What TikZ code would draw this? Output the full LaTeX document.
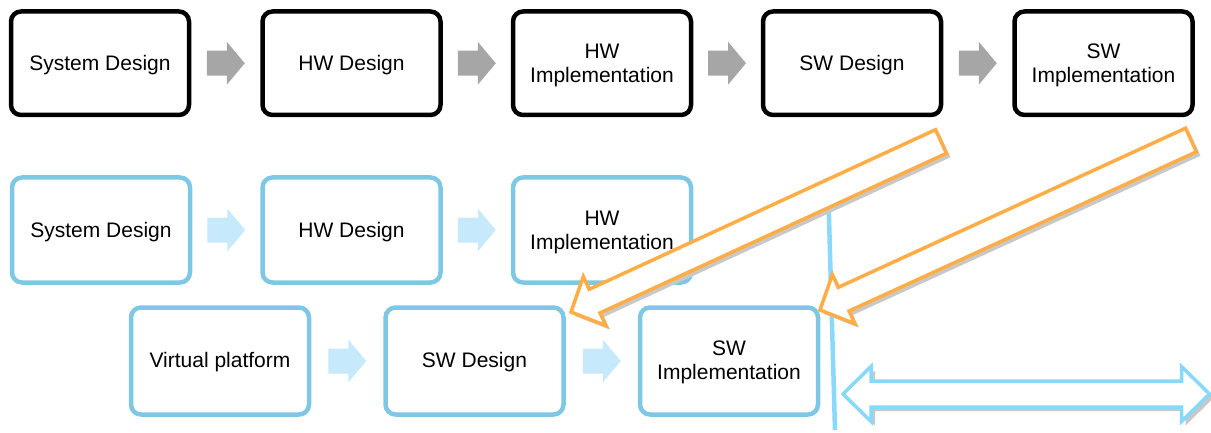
\documentclass[tikz,border=0pt]{standalone}
\usepackage{fontspec}
\setmainfont{Liberation Sans}
\usetikzlibrary{calc}
\definecolor{boxblue}{HTML}{7EC8E5}
\definecolor{arrowblue}{HTML}{C6EAFB}
\definecolor{arrowgray}{HTML}{A6A6A6}
\definecolor{bigorange}{HTML}{FFAD44}
\definecolor{vlineblue}{HTML}{8BD9FA}
\definecolor{dblblue}{HTML}{87D9F9}
\definecolor{shadowgray}{HTML}{C8C8C8}
% text block whose node box spans cap top to last baseline (optionally raised)
\newcommand{\boxlines}[2][1.8pt]{\raisebox{0pt}[\dimexpr\height-#1\relax][0pt]{\begin{tabular}[b]{@{}c@{}}#2\end{tabular}}}
\tikzset{
  stagebox/.style={rectangle, rounded corners=10pt, line width=4.5pt, fill=white,
    minimum width=178pt, inner sep=0pt, text depth=0pt,
    font=\fontsize{21}{24}\selectfont, text=black},
  blackbox/.style={stagebox, draw=black, minimum height=103.5pt},
  bluebox/.style={stagebox, draw=boxblue, minimum height=105pt},
  bluebox3/.style={stagebox, draw=boxblue, minimum height=107pt},
  grayflow/.style={fill=arrowgray},
  blueflow/.style={fill=arrowblue},
  bigarrow/.style={draw=bigorange, fill=white, line width=3.5pt, line join=miter},
  bigshadow/.style={fill=shadowgray},
  dblarrow/.style={draw=dblblue, fill=white, line width=3.5pt, line join=miter},
}
% small block arrow centred in the gap between two nodes
\newcommand{\flowarrow}[3]{%
  \path[#1] ($(#2.east)!0.5!(#3.west)$) ++(-19,-12.5) -- ++(20,0) -- ++(0,-9)
    -- ++(18,21.5) -- ++(-18,21.5) -- ++(0,-9) -- ++(-20,0) -- cycle;}
% fat outlined arrow from tail #2 to tip #3
\newcommand{\fatarrow}[3]{%
  \coordinate (fabase) at ($(#3)!26pt!(#2)$);
  \path[#1] ($(#2)!13pt!90:(#3)$) -- ($(fabase)!13pt!90:(#3)$)
    -- ($(fabase)!27pt!90:(#3)$) -- (#3) -- ($(fabase)!27pt!-90:(#3)$)
    -- ($(fabase)!13pt!-90:(#3)$) -- ($(#2)!13pt!-90:(#3)$) -- cycle;}
% double-headed outlined arrow between #2 and #3 (horizontal)
\newcommand{\twoheadarrow}[3]{%
  \path[#1] (#2) -- ++(28,-27.5) -- ++(0,14.5) -- ($(#3)+(-28,-13)$) -- ++(0,-14.5)
    -- (#3) -- ++(-28,27.5) -- ++(0,-14.5) -- ($(#2)+(28,13)$) -- ++(0,14.5) -- cycle;}
\begin{document}
\begin{tikzpicture}[x=1pt, y=-1pt]
\useasboundingbox (0,0) rectangle (1211,433);

% row 1
\node[blackbox] (t1) at (100,63.25) {\boxlines{System Design}};
\node[blackbox] (t2) at (351.5,63.25) {\boxlines{HW Design}};
\node[blackbox] (t3) at (602,63.25) {\boxlines{HW\\Implementation}};
\node[blackbox] (t4) at (852,63.25) {\boxlines{SW Design}};
\node[blackbox] (t5) at (1103.5,63.25) {\boxlines{SW\\Implementation}};
\flowarrow{grayflow}{t1}{t2}
\flowarrow{grayflow}{t2}{t3}
\flowarrow{grayflow}{t3}{t4}
\flowarrow{grayflow}{t4}{t5}

% row 2
\node[bluebox] (m1) at (101,230) {\boxlines{System Design}};
\node[bluebox] (m2) at (351.5,230) {\boxlines{HW Design}};
\node[bluebox] (m3) at (602,230) {\boxlines{HW\\Implementation}};
\flowarrow{blueflow}{m1}{m2}
\flowarrow{blueflow}{m2}{m3}

% row 3
\node[bluebox3] (b1) at (220,361) {\boxlines[4.8pt]{Virtual platform}};
\node[bluebox3] (b2) at (474.5,361) {\boxlines[4.8pt]{SW Design}};
\node[bluebox3] (b3) at (729,361) {\boxlines[4.8pt]{SW\\Implementation}};
\flowarrow{blueflow}{b1}{b2}
\flowarrow{blueflow}{b2}{b3}

% vertical divider
\coordinate (vtop) at (828.5,200);
\coordinate (vbot) at (835,430);
\draw[vlineblue, line width=4.5pt] (vtop) -- (vbot);

% big orange arrows
\coordinate (o1t) at (941,141.5);
\coordinate (o1h) at (571,312);
\coordinate (o2t) at (1191,140);
\coordinate (o2h) at (820,310);
\begin{scope}[transform canvas={shift={(4pt,-4pt)}}]
  \fatarrow{bigshadow}{o1t}{o1h}
  \fatarrow{bigshadow}{o2t}{o2h}
\end{scope}
\fatarrow{bigarrow}{o1t}{o1h}
\fatarrow{bigarrow}{o2t}{o2h}

% double arrow
\coordinate (dl) at (843,394);
\coordinate (dr) at (1209.5,394);
\begin{scope}[transform canvas={shift={(4pt,-4pt)}}]
  \twoheadarrow{bigshadow}{dl}{dr}
\end{scope}
\twoheadarrow{dblarrow}{dl}{dr}
\end{tikzpicture}
\end{document}
